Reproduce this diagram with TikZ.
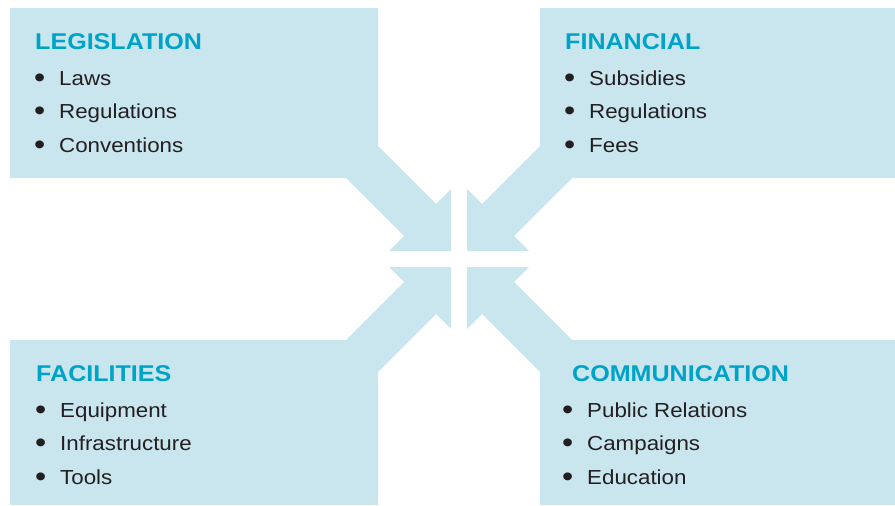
\documentclass[tikz,border=0pt]{standalone}
\usepackage{fontspec}
\setmainfont{Liberation Sans}[FakeStretch=1.1]
\definecolor{boxblue}{HTML}{C9E5EE}
\definecolor{titleblue}{HTML}{00A3C8}
\definecolor{bodytext}{HTML}{231F20}
\tikzset{
  panel/.style={fill=boxblue, draw=none},
  ttl/.style={anchor=base west, inner sep=0pt, text=titleblue, font=\fontsize{22.8}{26}\selectfont\bfseries},
  itm/.style={anchor=base west, inner sep=0pt, text=bodytext, font=\fontsize{20.3}{24}\selectfont},
}
\newcommand{\bul}[1]{\makebox[25pt][l]{\raisebox{-2.2pt}{\fontsize{29}{29}\selectfont •}}#1}
\begin{document}
\begin{tikzpicture}[x=1pt,y=-1pt]
\useasboundingbox (0,0) rectangle (895,506);
% top-left panel with arrow
\fill[panel] (10,8) -- (378,8) -- (378,146) -- (436,204) -- (451,189) -- (451,251) -- (389,251) -- (404,236) -- (346,178) -- (10,178) -- cycle;
% top-right
\fill[panel] (895,8) -- (540,8) -- (540,146) -- (482,204) -- (467,189) -- (467,251) -- (529,251) -- (514,236) -- (572,178) -- (895,178) -- cycle;
% bottom-left
\fill[panel] (10,340) -- (346,340) -- (404,282) -- (389,267) -- (451,267) -- (451,329) -- (436,314) -- (378,372) -- (378,505) -- (10,505) -- cycle;
% bottom-right
\fill[panel] (895,340) -- (572,340) -- (514,282) -- (529,267) -- (467,267) -- (467,329) -- (482,314) -- (540,372) -- (540,505) -- (895,505) -- cycle;

% texts
\node[ttl] (t1) at (35,49) {LEGISLATION};
\node[itm] (l1) at (34,85) {\bul{Laws}};
\node[itm] (l2) at (34,118.5) {\bul{Regulations}};
\node[itm] (l3) at (34,152) {\bul{Conventions}};

\node[ttl] (t2) at (565,49) {FINANCIAL};
\node[itm] (f1) at (564,85) {\bul{Subsidies}};
\node[itm] (f2) at (564,118.5) {\bul{Regulations}};
\node[itm] (f3) at (564,152) {\bul{Fees}};

\node[ttl] (t3) at (36,381) {FACILITIES};
\node[itm] (c1) at (35,417) {\bul{Equipment}};
\node[itm] (c2) at (35,450) {\bul{Infrastructure}};
\node[itm] (c3) at (35,484) {\bul{Tools}};

\node[ttl] (t4) at (572,381) {COMMUNICATION};
\node[itm] (m1) at (562,417) {\bul{Public Relations}};
\node[itm] (m2) at (562,450) {\bul{Campaigns}};
\node[itm] (m3) at (562,484) {\bul{Education}};
\end{tikzpicture}
\end{document}
